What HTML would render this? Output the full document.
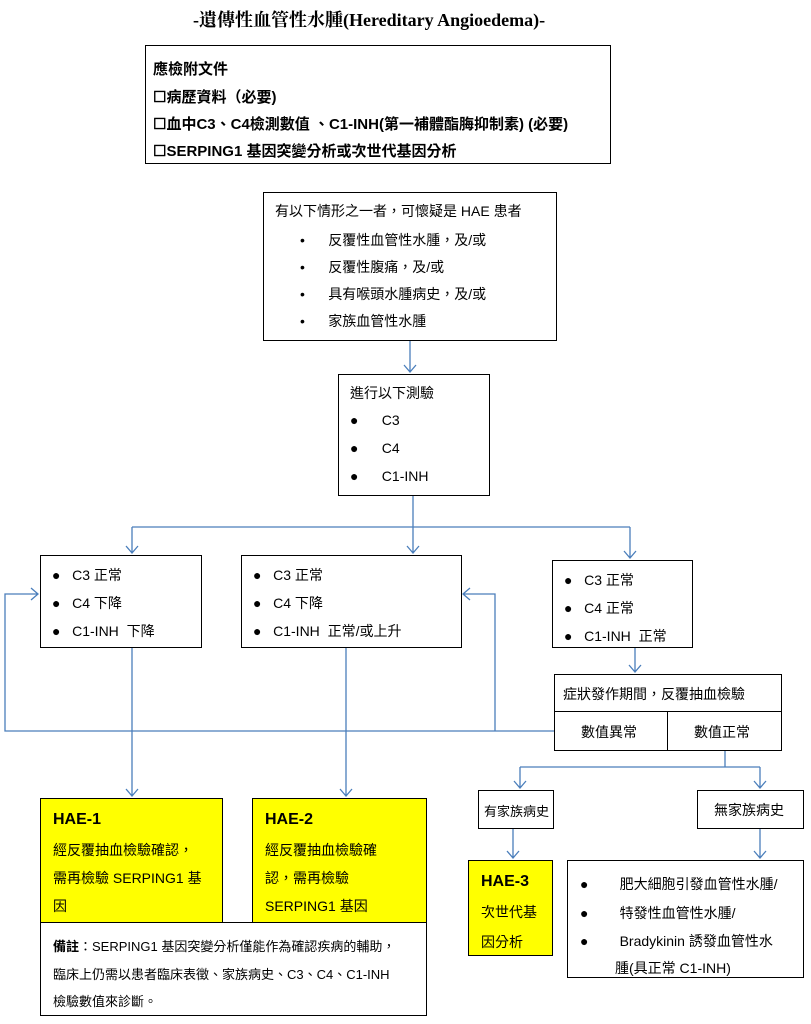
<!DOCTYPE html>
<html><head><meta charset="utf-8"><style>
body{margin:0;width:811px;height:1024px;background:#fff;position:relative;font-family:"Liberation Sans","Noto Sans CJK TC",sans-serif;color:#000;overflow:hidden}
.b{position:absolute;border:1.5px solid #000;box-sizing:border-box;background:#fff}
.t{position:absolute;white-space:nowrap;font-size:14px}
.y{background:#ffff00}
.bo{font-weight:bold}
svg{position:absolute;left:0;top:0}
</style></head><body>
<div class="t bo" style="left:193px;top:6px;font-size:18px;font-family:'Liberation Serif','Noto Serif CJK SC',serif">-遺傳性血管性水腫(Hereditary Angioedema)-</div>

<div class="b" style="left:145px;top:45px;width:466px;height:119px"></div>
<div class="t bo" style="left:153px;top:58px;font-size:15px">應檢附文件</div>
<div class="t bo" style="left:153px;top:86px;font-size:15px">☐病歷資料（必要)</div>
<div class="t bo" style="left:153px;top:113px;font-size:15px">☐血中C3、C4檢測數值 、C1-INH(第一補體酯脢抑制素) (必要)</div>
<div class="t bo" style="left:153px;top:140px;font-size:15px">☐SERPING1 基因突變分析或次世代基因分析</div>

<div class="b" style="left:263px;top:192px;width:294px;height:149px"></div>
<div class="t" style="left:275px;top:201px">有以下情形之一者，可懷疑是 HAE 患者</div>
<div class="t" style="left:300px;top:230px">•&nbsp;&nbsp;&nbsp;&nbsp;&nbsp;&nbsp;反覆性血管性水腫，及/或</div>
<div class="t" style="left:300px;top:257px">•&nbsp;&nbsp;&nbsp;&nbsp;&nbsp;&nbsp;反覆性腹痛，及/或</div>
<div class="t" style="left:300px;top:284px">•&nbsp;&nbsp;&nbsp;&nbsp;&nbsp;&nbsp;具有喉頭水腫病史，及/或</div>
<div class="t" style="left:300px;top:311px">•&nbsp;&nbsp;&nbsp;&nbsp;&nbsp;&nbsp;家族血管性水腫</div>

<div class="b" style="left:338px;top:374px;width:152px;height:122px"></div>
<div class="t" style="left:350px;top:383px">進行以下測驗</div>
<div class="t" style="left:350px;top:412px">●&nbsp;&nbsp;&nbsp;&nbsp;&nbsp;&nbsp;C3</div>
<div class="t" style="left:350px;top:440px">●&nbsp;&nbsp;&nbsp;&nbsp;&nbsp;&nbsp;C4</div>
<div class="t" style="left:350px;top:468px">●&nbsp;&nbsp;&nbsp;&nbsp;&nbsp;&nbsp;C1-INH</div>

<div class="b" style="left:40px;top:555px;width:162px;height:93px"></div>
<div class="t" style="left:52px;top:565px">●&nbsp;&nbsp;&nbsp;C3 正常</div>
<div class="t" style="left:52px;top:593px">●&nbsp;&nbsp;&nbsp;C4 下降</div>
<div class="t" style="left:52px;top:621px">●&nbsp;&nbsp;&nbsp;C1-INH&nbsp; 下降</div>

<div class="b" style="left:241px;top:555px;width:221px;height:93px"></div>
<div class="t" style="left:253px;top:565px">●&nbsp;&nbsp;&nbsp;C3 正常</div>
<div class="t" style="left:253px;top:593px">●&nbsp;&nbsp;&nbsp;C4 下降</div>
<div class="t" style="left:253px;top:621px">●&nbsp;&nbsp;&nbsp;C1-INH&nbsp; 正常/或上升</div>

<div class="b" style="left:552px;top:560px;width:141px;height:88px"></div>
<div class="t" style="left:564px;top:570px">●&nbsp;&nbsp;&nbsp;C3 正常</div>
<div class="t" style="left:564px;top:598px">●&nbsp;&nbsp;&nbsp;C4 正常</div>
<div class="t" style="left:564px;top:626px">●&nbsp;&nbsp;&nbsp;C1-INH&nbsp; 正常</div>

<div class="b" style="left:554px;top:674px;width:228px;height:39px"></div>
<div class="t" style="left:563px;top:684px">症狀發作期間，反覆抽血檢驗</div>
<div class="b" style="left:554px;top:711px;width:115px;height:40px"></div>
<div class="b" style="left:667px;top:711px;width:115px;height:40px"></div>
<div class="t" style="left:581px;top:722px">數值異常</div>
<div class="t" style="left:694px;top:722px">數值正常</div>

<div class="b" style="left:478px;top:790px;width:76px;height:39px"></div>
<div class="t" style="left:484px;top:801px;font-size:13px">有家族病史</div>
<div class="b" style="left:697px;top:790px;width:107px;height:39px"></div>
<div class="t" style="left:714px;top:800px">無家族病史</div>

<div class="b y" style="left:468px;top:860px;width:85px;height:96px"></div>
<div class="t bo" style="left:481px;top:873px;font-size:16px">HAE-3</div>
<div class="t" style="left:481px;top:902px">次世代基</div>
<div class="t" style="left:481px;top:932px">因分析</div>

<div class="b" style="left:567px;top:860px;width:237px;height:118px"></div>
<div class="t" style="left:580px;top:874px">●&nbsp;&nbsp;&nbsp;&nbsp;&nbsp;&nbsp;&nbsp;&nbsp;肥大細胞引發血管性水腫/</div>
<div class="t" style="left:580px;top:903px">●&nbsp;&nbsp;&nbsp;&nbsp;&nbsp;&nbsp;&nbsp;&nbsp;特發性血管性水腫/</div>
<div class="t" style="left:580px;top:931px">●&nbsp;&nbsp;&nbsp;&nbsp;&nbsp;&nbsp;&nbsp;&nbsp;Bradykinin 誘發血管性水</div>
<div class="t" style="left:615px;top:958px">腫(具正常 C1-INH)</div>

<div class="b y" style="left:40px;top:798px;width:183px;height:125px"></div>
<div class="t bo" style="left:53px;top:811px;font-size:16px">HAE-1</div>
<div class="t" style="left:53px;top:840px">經反覆抽血檢驗確認，</div>
<div class="t" style="left:53px;top:868px">需再檢驗 SERPING1 基</div>
<div class="t" style="left:53px;top:896px">因</div>

<div class="b y" style="left:252px;top:798px;width:175px;height:125px"></div>
<div class="t bo" style="left:265px;top:811px;font-size:16px">HAE-2</div>
<div class="t" style="left:265px;top:840px">經反覆抽血檢驗確</div>
<div class="t" style="left:265px;top:868px">認，需再檢驗</div>
<div class="t" style="left:265px;top:896px">SERPING1 基因</div>

<div class="b" style="left:40px;top:922px;width:387px;height:94px"></div>
<div class="t" style="left:53px;top:936px;font-size:13px"><b>備註</b>：SERPING1 基因突變分析僅能作為確認疾病的輔助，</div>
<div class="t" style="left:53px;top:964px;font-size:13px">臨床上仍需以患者臨床表徵、家族病史、C3、C4、C1-INH</div>
<div class="t" style="left:53px;top:991px;font-size:13px">檢驗數值來診斷。</div>

<svg width="811" height="1024" fill="none" stroke="#4a7ebb" stroke-width="1.3">
<path d="M410 341V372M404 365L410 372L416 365"/>
<path d="M413 496V527M132 527H630M132 527V553M413 527V553M630 527V558M126 546L132 553L138 546M407 546L413 553L419 546M624 551L630 558L636 551"/>
<path d="M132 648V796M126 789L132 796L138 789M346 648V796M340 789L346 796L352 789"/>
<path d="M554 731H5V594H38M31 588L38 594L31 600M495 731V594H463M470 588L463 594L470 600"/>
<path d="M635 648V672M629 665L635 672L641 665"/>
<path d="M725 751V767M520 767H760M520 767V788M760 767V788M514 781L520 788L526 781M754 781L760 788L766 781"/>
<path d="M513 829V858M507 851L513 858L519 851M760 829V858M754 851L760 858L766 851"/>
</svg>
</body></html>
